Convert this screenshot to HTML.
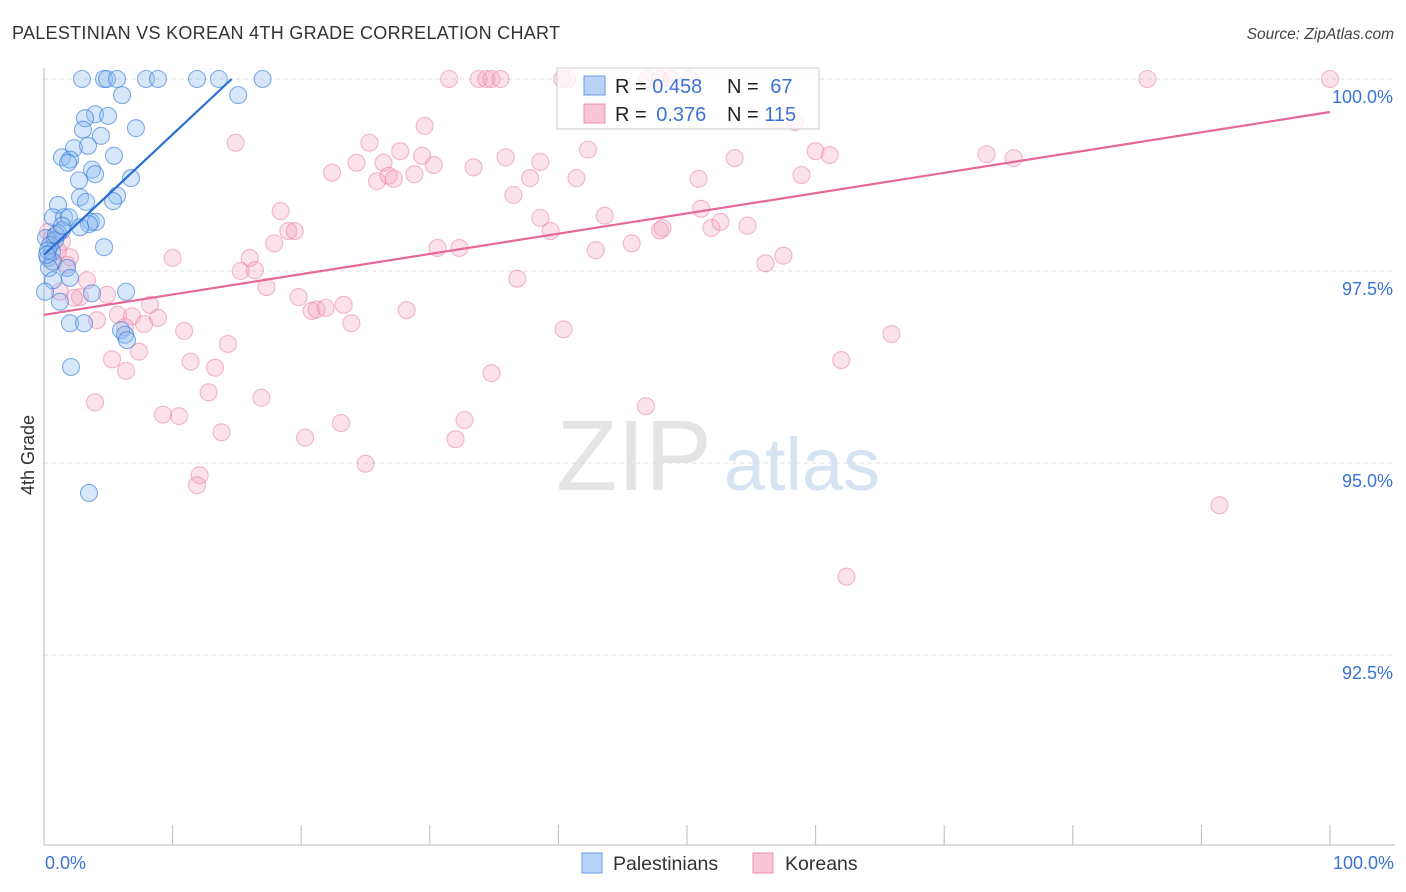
<!DOCTYPE html>
<html><head><meta charset="utf-8">
<style>
body{margin:0;background:#fff;font-family:"Liberation Sans",sans-serif;}
#wrap{position:relative;width:1406px;height:892px;overflow:hidden;}
svg text{font-family:"Liberation Sans",sans-serif;}
</style></head>
<body>
<div id="wrap">
<svg id="chart" width="1406" height="892">
<text x="12" y="39" font-size="18" textLength="548" fill="#333">PALESTINIAN VS KOREAN 4TH GRADE CORRELATION CHART</text>
<text x="1394" y="39" font-size="15.5" fill="#444" font-style="italic" text-anchor="end">Source: ZipAtlas.com</text>
<g>
<text x="634" y="490" font-size="100" fill="#e4e4e4" font-family="Liberation Serif" text-anchor="middle">ZIP</text>
<text x="802" y="490" font-size="74" fill="#d6e3f3" text-anchor="middle">atlas</text>
</g>
<g id="grid"></g>
<g id="axes"></g>
<g id="pts"></g>
<g id="trend"></g>
<text transform="translate(34,455) rotate(-90)" font-size="18" fill="#333" text-anchor="middle">4th Grade</text>
<text x="45" y="869" font-size="18" fill="#3b73d4">0.0%</text>
<text x="1394" y="869" font-size="18" fill="#3b73d4" text-anchor="end">100.0%</text>
<g>
<rect x="557" y="68" width="262" height="61" fill="#fff" fill-opacity="0.75" stroke="#ccc"/>
<rect x="584" y="76" width="21" height="19" fill="#b9d3f5" stroke="#6a9be0"/>
<rect x="584" y="104" width="21" height="19" fill="#f8c5d5" stroke="#ec8fb0"/>
<text x="615" y="93" font-size="20" fill="#222">R = <tspan fill="#3b73d4">0.458</tspan></text>
<text x="727" y="93" font-size="20" fill="#222">N = <tspan fill="#3b73d4" dx="6">67</tspan></text>
<text x="615" y="121" font-size="20" fill="#222">R = <tspan fill="#3b73d4" dx="4">0.376</tspan></text>
<text x="727" y="121" font-size="20" fill="#222">N = <tspan fill="#3b73d4">115</tspan></text>
</g>
<g>
<rect x="582" y="853" width="20" height="20" fill="#b9d3f5" stroke="#6a9be0"/>
<text x="613" y="870" font-size="19.5" fill="#333">Palestinians</text>
<rect x="753" y="853" width="20" height="20" fill="#f8c5d5" stroke="#ec8fb0"/>
<text x="785" y="870" font-size="19.5" fill="#333">Koreans</text>
</g>
</svg>
</div>
<script>
const yTicks=[100,97.5,95,92.5];
const yTickLabels=["100.0%","97.5%","95.0%","92.5%"];
const xTicks=[0,10,20,30,40,50,60,70,80,90,100];
const palX=[2.95,4.67,4.9,5.68,7.93,8.86,11.9,13.6,17.0,6.07,15.1,3.97,3.19,4.98,7.15,3.03,4.43,2.33,3.42,1.40,2.02,1.87,5.44,3.73,3.97,6.77,2.72,2.8,5.68,5.37,3.27,1.09,0.7,1.56,1.94,3.65,4.04,3.5,2.8,1.4,1.09,0.16,0.86,0.47,4.67,0.62,0.31,0.7,0.39,1.79,0.7,2.02,0.08,3.73,6.38,1.24,2.02,3.11,5.99,6.3,6.45,2.1,3.5,0.31,0.23,0.93,1.4];
const palY=[100,100,100,100,100,100,100,100,100,99.79,99.79,99.54,99.49,99.52,99.36,99.34,99.26,99.10,99.13,98.98,98.95,98.91,99.0,98.82,98.76,98.71,98.68,98.46,98.48,98.41,98.40,98.36,98.20,98.20,98.20,98.14,98.14,98.11,98.07,98.03,97.99,97.93,97.90,97.84,97.81,97.75,97.67,97.62,97.54,97.54,97.38,97.41,97.23,97.21,97.23,97.10,96.82,96.82,96.73,96.67,96.60,96.25,94.61,97.77,97.71,97.97,98.09];
const korX=[31.5,33.8,34.4,34.8,35.5,40.3,40.7,46.9,47.9,48.8,50.2,85.8,100,58.4,29.6,14.9,25.3,42.3,60.0,61.1,24.3,26.4,27.7,29.4,30.3,33.4,35.9,38.6,53.7,73.3,75.4,22.4,25.9,26.8,27.2,28.8,37.8,41.4,50.9,58.9,36.5,18.4,38.6,43.6,51.1,19.0,19.5,17.9,39.4,47.9,48.1,51.9,52.6,54.7,30.6,32.3,42.9,45.7,10.0,16.0,15.3,16.4,56.1,57.5,36.8,17.3,19.8,28.2,20.8,21.2,21.9,23.3,23.9,8.24,8.86,6.84,7.78,10.9,40.4,65.9,14.3,7.39,5.29,11.4,13.3,6.38,62.0,34.8,12.8,16.9,3.97,9.25,10.5,23.1,32.7,46.8,13.8,20.3,32.0,25.0,12.1,11.9,91.4,62.4,0.31,0.62,1.4,2.02,0.62,1.09,1.79,3.34,2.8,2.33,4.9,4.12,5.75,6.3,1.24];
const korY=[100,100,100,100,100,100,100,100,100,100,100,100,100,99.44,99.39,99.17,99.17,99.08,99.06,99.01,98.91,98.91,99.06,99.0,98.88,98.85,98.98,98.92,98.97,99.02,98.97,98.78,98.67,98.74,98.70,98.76,98.71,98.71,98.70,98.75,98.49,98.28,98.19,98.22,98.31,98.02,98.02,97.86,98.02,98.03,98.06,98.06,98.14,98.09,97.80,97.80,97.77,97.86,97.67,97.67,97.50,97.51,97.60,97.70,97.40,97.29,97.16,96.99,96.98,97.0,97.02,97.06,96.82,97.06,96.89,96.91,96.81,96.72,96.74,96.68,96.55,96.45,96.35,96.32,96.24,96.20,96.34,96.17,95.92,95.85,95.79,95.63,95.61,95.52,95.56,95.74,95.40,95.33,95.31,94.99,94.84,94.71,94.45,93.52,98.01,97.93,97.88,97.68,97.62,97.76,97.58,97.38,97.16,97.15,97.19,96.86,96.93,96.77,97.23];
const palTrend=[[0,97.71],[14.6,100]];
const korTrend=[[0,96.93],[100,99.57]];

const NS="http://www.w3.org/2000/svg";
const X0=44,X1=1330,YTOP=79;
const sx=v=>X0+(v/100)*(X1-X0);
const sy=v=>YTOP+(100-v)*76.8;
function mk(tag,attrs,parent){const e=document.createElementNS(NS,tag);for(const k in attrs)e.setAttribute(k,attrs[k]);document.getElementById(parent).appendChild(e);return e;}
yTicks.forEach((t,i)=>{
  const l=mk('line',{x1:X0,x2:1395,y1:sy(t),y2:sy(t),stroke:'#ddd','stroke-dasharray':'4,4'},'grid');
  
  
  const tx=mk('text',{x:1393,y:sy(t)+24,'font-size':18,fill:'#3b73d4','text-anchor':'end'},'grid');
  tx.textContent=yTickLabels[i];
  
  
});
const ya=mk('line',{x1:X0,x2:X0,y1:68,y2:845,stroke:'#bbb'},'axes');


const xa=mk('line',{x1:X0,x2:1395,y1:845,y2:845,stroke:'#bbb'},'axes');


xTicks.forEach(t=>{
  const l=mk('line',{x1:sx(t),x2:sx(t),y1:825,y2:845,stroke:'#bbb'},'axes');
  
  
});
korX.forEach((x,i)=>{
  const c=mk('circle',{cx:sx(x),cy:sy(korY[i]),r:8.5,fill:'rgba(243,160,188,0.3)',stroke:'rgba(232,120,160,0.5)','stroke-width':1.1},'pts');
  
  
});
palX.forEach((x,i)=>{
  const c=mk('circle',{cx:sx(x),cy:sy(palY[i]),r:8.5,fill:'rgba(140,185,240,0.35)',stroke:'rgba(50,120,215,0.6)','stroke-width':1.1},'pts');
  
  
});
const t1=mk('line',{x1:sx(palTrend[0][0]),y1:sy(palTrend[0][1]),x2:sx(palTrend[1][0]),y2:sy(palTrend[1][1]),stroke:'#2a6fd6','stroke-width':2.2},'trend');


const t2=mk('line',{x1:sx(korTrend[0][0]),y1:sy(korTrend[0][1]),x2:sx(korTrend[1][0]),y2:sy(korTrend[1][1]),stroke:'#e8679a','stroke-width':2.2},'trend');


</script>
</body></html>
